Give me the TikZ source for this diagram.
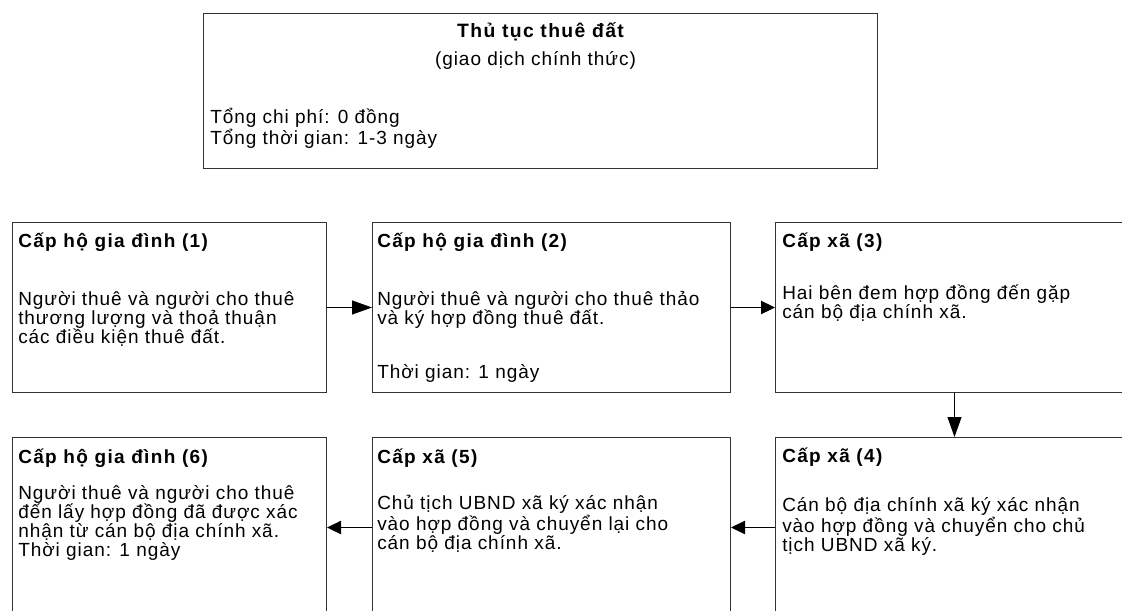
\documentclass[tikz,border=0pt]{standalone}
\usepackage{fontspec}
\setmainfont{Liberation Sans}[LetterSpace=5, BoldFeatures={LetterSpace=7}]
\usetikzlibrary{calc,arrows.meta}

\tikzset{
	stepbox/.style={draw=black!80, line width=0.75pt, rectangle, inner sep=0pt,
		anchor=north west, minimum width=268.5pt, minimum height=135pt},
	steptitle/.style={anchor=base west, inner sep=0pt,
		font=\bfseries\fontsize{14.25pt}{14.25pt}\selectfont},
	steptext/.style={anchor=base west, inner sep=0pt, align=left,
		font=\fontsize{14.25pt}{14.25pt}\selectfont},
	flow/.style={line width=0.75pt, -{Triangle[length=10.5pt,width=10pt]}},
	bighead/.style={line width=0.75pt, -{Triangle[length=15pt,width=10.5pt]}},
}

\begin{document}
\begin{tikzpicture}[x=0.75pt, y=-0.75pt]
	\clip (0,0) rectangle (1122,611);

	% summary box
	\node[stepbox, minimum width=505.5pt, minimum height=116.25pt] (proc) at (203,13) {};
	\node[anchor=base, inner sep=0pt, font=\bfseries\fontsize{14.5pt}{17pt}\selectfont]
		(proctitle) at ($(proc.north)+(0,24)$) {Thủ tục thuê đất};
	\node[anchor=base, inner sep=0pt, font=\fontsize{14.25pt}{14.25pt}\selectfont]
		(procsub) at ($(proc.north)+(-5,52)$) {(giao dịch chính thức)};
	% (base of a multi-line text = its last line)
	\node[steptext] (proctext) at ($(proc.north west)+(7,131)$)
		{Tổng chi phí: 0 đồng\\Tổng thời gian: 1-3 ngày};

	% step boxes
	\node[stepbox, minimum width=235.5pt, minimum height=127.5pt] (s1) at (12,222) {};
	\node[stepbox, minimum height=127.5pt] (s2) at (372,222) {};
	\node[stepbox, minimum height=127.5pt] (s3) at (775,222) {};
	\node[stepbox] (s4) at (775,437) {};
	\node[stepbox] (s5) at (372,437) {};
	\node[stepbox, minimum width=235.5pt] (s6) at (12,437) {};

	% step texts
	\node[steptitle] (s1title) at ($(s1.north west)+(6,25)$) {Cấp hộ gia đình (1)};
	\node[steptext] (s1text) at ($(s1.north west)+(6,121)$)
		{Người thuê và người cho thuê\\thương lượng và thoả thuận\\các điều kiện thuê đất.};

	\node[steptitle] (s2title) at ($(s2.north west)+(5,25)$) {Cấp hộ gia đình (2)};
	\node[steptext] (s2text) at ($(s2.north west)+(5,102)$)
		{Người thuê và người cho thuê thảo\\và ký hợp đồng thuê đất.};
	\node[steptext] (s2time) at ($(s2.north west)+(5,156)$) {Thời gian: 1 ngày};

	\node[steptitle] (s3title) at ($(s3.north west)+(7,25)$) {Cấp xã (3)};
	\node[steptext] (s3text) at ($(s3.north west)+(7,96)$)
		{Hai bên đem hợp đồng đến gặp\\cán bộ địa chính xã.};

	\node[steptitle] (s4title) at ($(s4.north west)+(7,25)$) {Cấp xã (4)};
	\node[steptext] (s4text) at ($(s4.north west)+(7,114)$)
		{Cán bộ địa chính xã ký xác nhận\\vào hợp đồng và chuyển cho chủ\\tịch UBND xã ký.};

	\node[steptitle] (s5title) at ($(s5.north west)+(5,26)$) {Cấp xã (5)};
	\node[steptext] (s5text) at ($(s5.north west)+(5,112)$)
		{Chủ tịch UBND xã ký xác nhận\\vào hợp đồng và chuyển lại cho\\cán bộ địa chính xã.};

	\node[steptitle] (s6title) at ($(s6.north west)+(6,26)$) {Cấp hộ gia đình (6)};
	\node[steptext] (s6text) at ($(s6.north west)+(6,119)$)
		{Người thuê và người cho thuê\\đến lấy hợp đồng đã được xác\\nhận từ cán bộ địa chính xã.\\Thời gian: 1 ngày};

	% flow
	\draw[bighead] (s1) -- (s2);
	\draw[flow] (s2) -- (s3);
	\draw[bighead] (s3) -- (s4);
	\draw[flow] (s4) -- (s5);
	\draw[flow] (s5) -- (s6);
\end{tikzpicture}
\end{document}
